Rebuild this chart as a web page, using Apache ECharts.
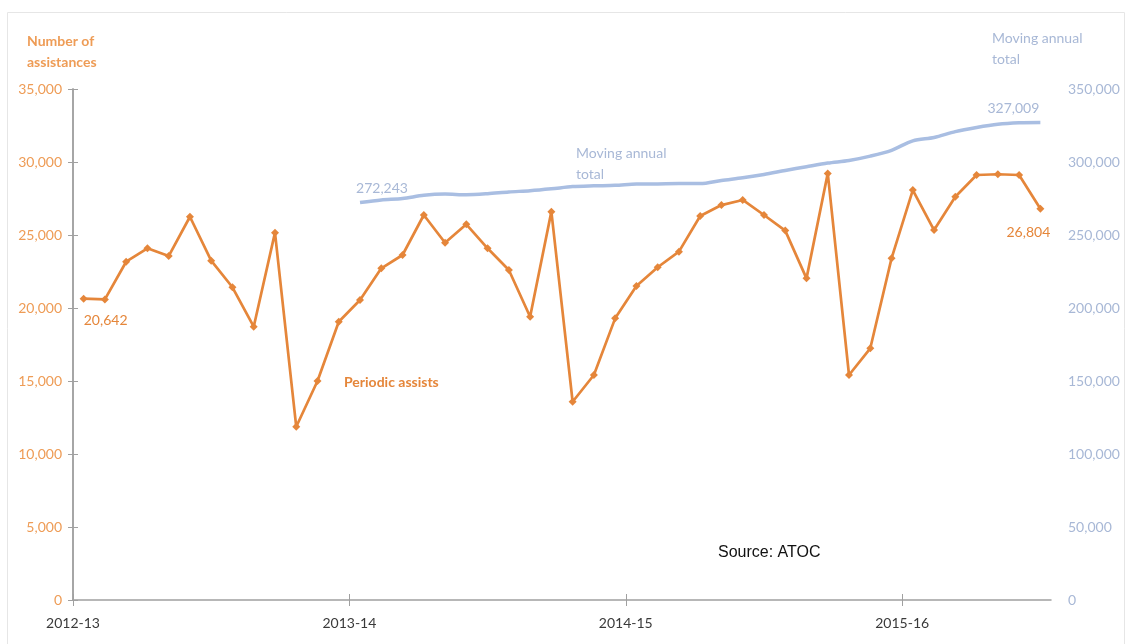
<!DOCTYPE html>
<html>
<head>
<meta charset="utf-8">
<script src="https://cdn.jsdelivr.net/npm/echarts@6/dist/echarts.min.js"></script>
<style>html,body{margin:0;padding:0;background:#fff}#c{width:1131px;height:644px}</style>
</head>
<body>
<div id="c"></div>
<script>
// Year labels (13 railway periods per year), 46 periods shown
const yearLabels = ['2012-13', '2013-14', '2014-15', '2015-16'];
const periodsPerYear = 13;
// Periodic assists, 2012-13 P1 .. 2015-16 P7
const periodicAssists = [
  20642, 20590, 23170, 24090, 23560, 26250, 23240, 21420, 18720, 25160, 11870, 15000, 19060,
  20550, 22720, 23630, 26370, 24470, 25730, 24090, 22600, 19400, 26600, 13580, 15410, 19290,
  21500, 22790, 23860, 26300, 27050, 27400, 26370, 25300, 22030, 29220, 15410, 17240, 23400,
  28080, 25340, 27620, 29110, 29160, 29110, 26804
];
// Moving annual total, starting 2013-14 P1 (period index 13)
const matStart = 13;
const movingAnnualTotal = [
  272243, 274000, 275000, 277200, 278000, 277600, 278300, 279500, 280300, 281600, 283200, 283700, 284000,
  284900, 285000, 285200, 285200, 287400, 289200, 291500, 294200, 296800, 299300, 301000, 304000, 308000,
  314500, 316800, 320800, 323600, 325800, 326800, 327009
];

const ORANGE = '#E5863A';
const ORANGE_LT = '#EE9C56';
const BLUE = '#A9BEE2';
const BLUE_TXT = '#A8B8D6';
const FONT = 'Lato';

const nPer = periodicAssists.length;
const assistsData = periodicAssists.map((v, i) => {
  const d = { value: [i + 0.5, v] };
  if (i === 0) d.label = { show: true, position: 'bottom', offset: [22, 6] };
  if (i === nPer - 1) d.label = { show: true, position: 'bottom', offset: [-12, 8] };
  return d;
});
const matData = movingAnnualTotal.map((v, i) => {
  const d = { value: [matStart + i + 0.5, v] };
  if (i === 0) d.label = { show: true, position: 'top', offset: [22, -2] };
  if (i === movingAnnualTotal.length - 1) d.label = { show: true, position: 'top', offset: [-27, -2] };
  return d;
});
const fmt = v => v.toLocaleString('en-US');
const yearTicks = yearLabels.map((_, i) => i * periodsPerYear);

const chart = echarts.init(document.getElementById('c'), null, { renderer: 'canvas' });
chart.setOption({
  animation: false,
  backgroundColor: '#fff',
  textStyle: { fontFamily: FONT },
  grid: { left: 73, right: 80, top: 89, bottom: 44 },
  xAxis: [
    {
      type: 'value', min: 0, max: nPer, interval: periodsPerYear,
      axisLine: { show: true, lineStyle: { color: '#a0a0a0', width: 1.5 } },
      axisTick: { show: true, length: 6, lineStyle: { color: '#a0a0a0' }, customValues: yearTicks },
      splitLine: { show: false },
      axisLabel: {
        customValues: yearTicks,
        formatter: v => yearLabels[Math.round(v / periodsPerYear)] || '',
        color: '#3a3a3a', fontSize: 14, fontFamily: FONT, margin: 16
      }
    },
    {
      // inward half of the crossing year ticks
      type: 'value', min: 0, max: nPer, interval: periodsPerYear, position: 'bottom',
      axisLine: { show: false },
      axisTick: { show: true, inside: true, length: 6, lineStyle: { color: '#a0a0a0' }, customValues: yearTicks },
      splitLine: { show: false },
      axisLabel: { show: false }
    }
  ],
  yAxis: [
    {
      type: 'value', min: 0, max: 35000, interval: 5000, position: 'left',
      axisLine: { show: true, lineStyle: { color: '#a0a0a0', width: 1.5 } },
      axisTick: { show: true, length: 5, lineStyle: { color: '#a0a0a0' } },
      splitLine: { show: false },
      axisLabel: { formatter: fmt, color: ORANGE_LT, fontSize: 14, fontFamily: FONT, margin: 11 }
    },
    {
      type: 'value', min: 0, max: 350000, interval: 50000, position: 'right',
      axisLine: { show: true, lineStyle: { color: '#a0a0a0', width: 1.5 } },
      axisTick: { show: true, length: 5, lineStyle: { color: '#a0a0a0' } },
      splitLine: { show: false },
      axisLabel: { formatter: fmt, color: BLUE_TXT, fontSize: 14, fontFamily: FONT, margin: 17 }
    }
  ],
  series: [
    {
      name: 'Moving annual total', type: 'line', yAxisIndex: 1, data: matData,
      showSymbol: true, symbol: 'circle', symbolSize: 0.1,
      itemStyle: { color: BLUE, opacity: 0 },
      smooth: 0.3,
      lineStyle: { color: BLUE, width: 3.5 },
      label: { show: false, formatter: p => fmt(p.value[1]), color: BLUE_TXT, fontSize: 14, fontFamily: FONT, opacity: 1 }
    },
    {
      name: 'Periodic assists', type: 'line', yAxisIndex: 0, data: assistsData,
      symbol: 'diamond', symbolSize: 8,
      itemStyle: { color: ORANGE },
      lineStyle: { color: ORANGE, width: 2.7 },
      label: { show: false, formatter: p => fmt(p.value[1]), color: ORANGE, fontSize: 14, fontFamily: FONT }
    }
  ],
  graphic: [
    { type: 'rect', shape: { x: 7.5, y: 12.5, width: 1117, height: 640 }, style: { fill: 'none', stroke: '#e6e6e6', lineWidth: 1 }, silent: true },
    { type: 'text', left: 27, top: 31, style: { text: 'Number of\nassistances', fill: ORANGE_LT, font: 'bold 14px ' + FONT, lineHeight: 21 } },
    { type: 'text', left: 992, top: 28, style: { text: 'Moving annual\ntotal', fill: BLUE_TXT, font: '14px ' + FONT, lineHeight: 21 } },
    { type: 'text', left: 576, top: 143, style: { text: 'Moving annual\ntotal', fill: BLUE_TXT, font: '14px ' + FONT, lineHeight: 21 } },
    { type: 'text', left: 344, top: 375, style: { text: 'Periodic assists', fill: ORANGE, font: 'bold 14px ' + FONT } },
    { type: 'text', left: 718, top: 545, style: { text: 'Source: ATOC', fill: '#111', font: '16px "Liberation Sans", Arial, sans-serif' } }
  ]
});
</script>
</body>
</html>
